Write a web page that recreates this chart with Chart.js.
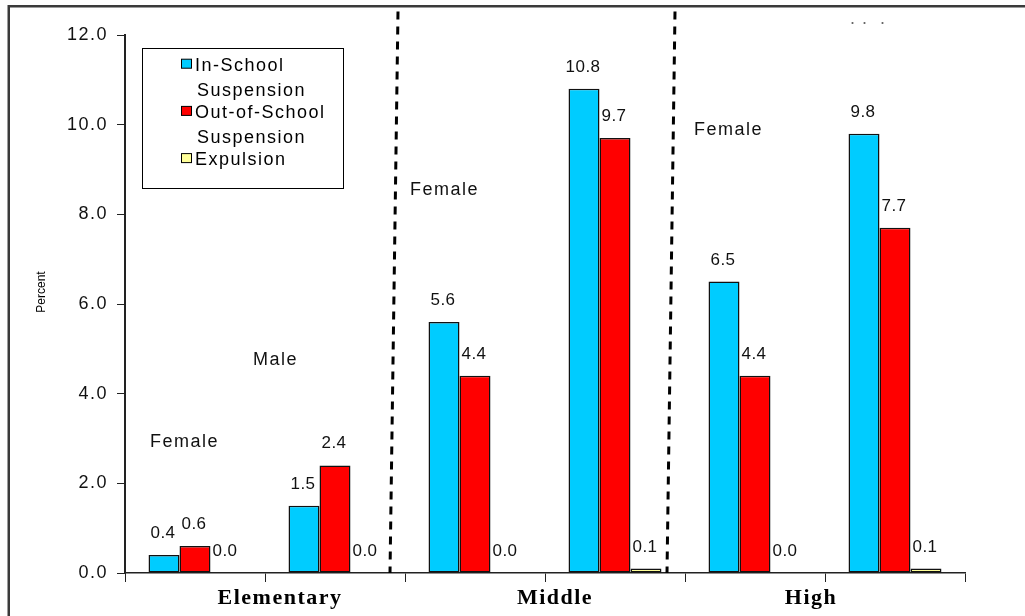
<!DOCTYPE html>
<html>
<head>
<meta charset="utf-8">
<script src="https://cdn.jsdelivr.net/npm/chart.js@4/dist/chart.umd.min.js"></script>
<style>
  html, body { margin: 0; padding: 0; background: #fff; }
  canvas { display: block; }
</style>
</head>
<body>
<canvas id="chart" width="1025" height="616"></canvas>
<script>
// School levels, each split into a female and a male group of bars
const schoolLevels = ['Elementary', 'Middle', 'High'];
const genders = ['Female', 'Male'];

// Disciplinary action rates (percent), one value per level/gender group
const inSchoolSuspension = [0.4, 1.5, 5.6, 10.8, 6.5, 9.8];
const outOfSchoolSuspension = [0.6, 2.4, 4.4, 9.7, 4.4, 7.7];
const expulsion = [0.0, 0.0, 0.0, 0.1, 0.0, 0.1];

// Legend entries (wrapped onto two lines) and bar colours
const seriesLabels = [['In-School', 'Suspension'], ['Out-of-School', 'Suspension'], ['Expulsion']];
const seriesColors = ['#00CCFF', '#FF0000', '#FFFF99'];

// Y axis ticks
const yTickValues = [0, 2, 4, 6, 8, 10, 12];
const yAxisTitle = 'Percent';

// Group captions written inside the plot
const groupNotes = ['Female', 'Male', 'Female', 'Female'];
const trailingDots = ['.', '.', '.'];

const categories = [];
schoolLevels.forEach(level => genders.forEach(g => categories.push(level + ' ' + g)));

const SANS = '"Liberation Sans", Arial, sans-serif';
const SERIF = '"Liberation Serif", "Times New Roman", serif';

// Outer frame + letter spacing for the axis labels
const framePlugin = {
  id: 'frame',
  beforeDraw(chart) {
    const ctx = chart.ctx;
    ctx.save();
    ctx.fillStyle = '#ffffff';
    ctx.fillRect(0, 0, chart.width, chart.height);
    ctx.fillStyle = '#3a3a3a';
    ctx.fillRect(8, 5, chart.width - 8, 2.5);
    ctx.fillRect(7.5, 5, 2.5, chart.height - 5);
    ctx.restore();
    ctx.letterSpacing = '1.5px';
  },
  beforeDatasetsDraw(chart) {
    chart.ctx.letterSpacing = '0px';
  }
};

// Divider lines, value labels, captions, legend and axis title
const overlayPlugin = {
  id: 'overlay',
  afterDraw(chart) {
    const ctx = chart.ctx;
    const xs = chart.scales.x;
    const ys = chart.scales.y;
    const area = chart.chartArea;
    const boundary = i => (xs.getPixelForValue(i) + xs.getPixelForValue(i + 1)) / 2;

    ctx.save();

    // dashed dividers between school levels
    ctx.strokeStyle = '#000';
    ctx.lineWidth = 3;
    ctx.setLineDash([8, 7]);
    [[1, -7, -15], [3, -10, -18]].forEach(([i, dTop, dBot]) => {
      const b = boundary(i);
      ctx.beginPath();
      ctx.moveTo(b + dTop, 11.5);
      ctx.lineTo(b + dBot, area.bottom);
      ctx.stroke();
    });
    ctx.setLineDash([]);

    // value labels above each bar
    ctx.fillStyle = '#111';
    ctx.font = '17px ' + SANS;
    ctx.letterSpacing = '0.5px';
    ctx.textAlign = 'center';
    ctx.textBaseline = 'alphabetic';
    chart.data.datasets.forEach((ds, di) => {
      chart.getDatasetMeta(di).data.forEach((bar, i) => {
        ctx.fillText(ds.data[i].toFixed(1), bar.x - 1, bar.y - 17);
      });
    });

    // group captions
    ctx.font = '18px ' + SANS;
    ctx.letterSpacing = '1.5px';
    ctx.textAlign = 'left';
    const noteSpots = [[0, -45, 2.8], [1, -82, 4.64], [2, -65, 8.43], [4, -61, 9.77]];
    groupNotes.forEach((t, k) => {
      const [cat, dx, v] = noteSpots[k];
      ctx.fillText(t, xs.getPixelForValue(cat) + dx, ys.getPixelForValue(v));
    });
    ctx.fillStyle = '#666';
    [-43, -31, -13].forEach((dx, k) => {
      ctx.fillText(trailingDots[k], xs.getPixelForValue(5) + dx - 2, ys.getPixelForValue(12.24));
    });

    // school level captions below the axis
    ctx.fillStyle = '#000';
    ctx.font = 'bold 22px ' + SERIF;
    ctx.letterSpacing = '1.5px';
    ctx.textAlign = 'center';
    const levelShift = [15, 10, -14];
    schoolLevels.forEach((lvl, g) => {
      ctx.fillText(lvl, boundary(2 * g) + levelShift[g], 604);
    });

    // legend
    ctx.letterSpacing = '0px';
    ctx.lineWidth = 1;
    ctx.strokeStyle = '#000';
    ctx.strokeRect(142.5, 48.5, 201, 140);
    ctx.font = '18px ' + SANS;
    ctx.letterSpacing = '1.5px';
    ctx.textAlign = 'left';
    seriesLabels.forEach((lines, k) => {
      const base = 70.7 + k * 47.2;
      ctx.fillStyle = seriesColors[k];
      ctx.fillRect(181, base - 11.5, 10, 9);
      ctx.strokeRect(181.5, base - 11.5, 10, 9);
      ctx.fillStyle = '#000';
      lines.forEach((line, j) => {
        ctx.fillText(line, j === 0 ? 195 : 197, base + j * 25.5);
      });
    });

    // y axis title
    ctx.letterSpacing = '0px';
    ctx.font = '12px ' + SANS;
    ctx.textAlign = 'center';
    ctx.textBaseline = 'middle';
    ctx.translate(42, 292);
    ctx.rotate(-Math.PI / 2);
    ctx.fillText(yAxisTitle, 0, 0);

    ctx.restore();
  }
};

new Chart(document.getElementById('chart'), {
  type: 'bar',
  data: {
    labels: categories,
    datasets: [inSchoolSuspension, outOfSchoolSuspension, expulsion].map((values, k) => ({
      label: seriesLabels[k].join(' '),
      data: values,
      backgroundColor: seriesColors[k],
      borderColor: '#111',
      borderWidth: 1.5,
      borderSkipped: false,
      categoryPercentage: 0.664,
      barPercentage: 1.0
    }))
  },
  options: {
    responsive: false,
    animation: false,
    events: [],
    layout: { padding: { top: 35, right: 60, bottom: 0, left: 0 } },
    plugins: {
      legend: { display: false },
      tooltip: { enabled: false },
      title: { display: false }
    },
    scales: {
      x: {
        offset: true,
        grid: {
          offset: true,
          drawOnChartArea: false,
          drawTicks: true,
          tickLength: 9,
          color: '#222',
          lineWidth: 1
        },
        border: { display: true, color: '#222', width: 1.5 },
        ticks: { display: false },
        afterFit(scale) { scale.height = 43; }
      },
      y: {
        min: 0,
        max: 12,
        afterBuildTicks(scale) { scale.ticks = yTickValues.map(v => ({ value: v })); },
        grid: {
          drawOnChartArea: false,
          drawTicks: true,
          tickLength: 8,
          color: '#222',
          lineWidth: 1
        },
        border: { display: true, color: '#222', width: 2 },
        ticks: {
          padding: 9,
          color: '#111',
          font: { family: SANS, size: 18 },
          callback: v => Number(v).toFixed(1)
        },
        afterFit(scale) { scale.width = 125; }
      }
    }
  },
  plugins: [framePlugin, overlayPlugin]
});
</script>
</body>
</html>
